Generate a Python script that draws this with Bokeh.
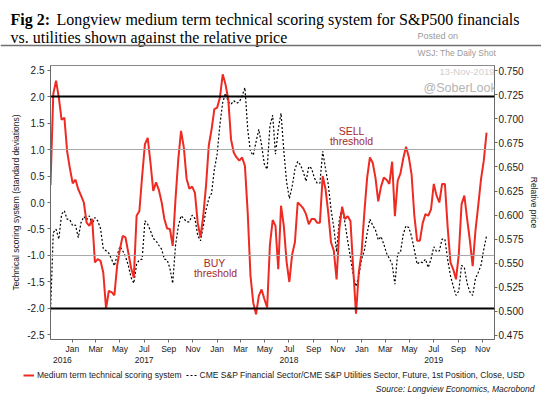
import pandas as pd
from bokeh.plotting import figure
from bokeh.layouts import column
from bokeh.models import (Range1d, LinearAxis, DatetimeAxis, FixedTicker,
                          NumeralTickFormatter, DatetimeTickFormatter, Span,
                          Label, Legend, LegendItem)
from bokeh.embed import file_html
from bokeh.resources import INLINE

# ---------------- data (weekly readings from the chart) ----------------
start_date = "2016-11-07"
score = [0.33, 2.05, 2.30, 1.98, 1.56, 1.60, 0.96, 0.64, 0.36, 0.43,
         0.25, 0.13, 0.00, -0.38, -0.44, -0.31, -1.13, -1.07, -1.10, -1.32,
         -2.00, -1.67, -1.69, -1.75, -1.19, -0.88, -0.63, -0.66, -0.94, -1.23,
         -1.42, -0.25, -0.16, 0.50, 1.10, 1.22, 0.75, 0.22, 0.38, 0.24,
         0.01, -0.31, -0.49, -0.50, -0.82, 0.06, 0.81, 1.35, 1.04, 0.45,
         0.26, 0.30, 0.18, -0.38, -0.66, -0.25, 0.32, 1.08, 1.38, 1.76,
         1.79, 1.98, 2.42, 2.23, 1.95, 1.19, 0.94, 0.85, 0.79, 0.85,
         0.69, -0.19, -1.38, -1.89, -2.11, -1.76, -1.64, -1.82, -1.98, -0.80,
         -0.33, -0.44, -1.26, -0.06, -0.44, -1.12, -1.50, -0.98, -0.75, 0.00,
         -0.05, -0.11, -0.22, -0.41, -0.31, -0.31, -0.38, -0.38, 0.50, 0.26,
         -0.19, -0.75, -0.91, -1.45, -0.50, -0.08, -0.31, -0.26, -0.35, -1.26,
         -2.10, -1.32, -0.94, -0.19, 0.47, 0.85, 0.75, 0.47, 0.02, 0.30,
         0.47, 0.43, 0.35, 0.77, -0.26, 0.41, 0.55, 0.83, 1.05, 0.86,
         0.53, -0.25, -0.72, -0.72, -0.39, -0.22, -0.25, -0.13, 0.35, 0.13,
         0.00, 0.35, 0.35, -0.47, -1.13, -1.26, -1.45, -0.98, -0.03, 0.13,
         -0.31, -0.72, -1.20, -0.53, -0.06, 0.44, 0.79, 1.32]
rel_price = [0.4987, 0.5818, 0.5853, 0.5750, 0.6009, 0.6044, 0.5957, 0.5950, 0.5888, 0.5895,
             0.5766, 0.5922, 0.5985, 0.5950, 0.5992, 0.5905, 0.5974, 0.5940, 0.5860, 0.5652,
             0.5628, 0.5603, 0.5541, 0.5472, 0.5582, 0.5673, 0.5628, 0.5569, 0.5478, 0.5350,
             0.5291, 0.5489, 0.5534, 0.5541, 0.5940, 0.5905, 0.5836, 0.5756, 0.5732, 0.5686,
             0.5645, 0.5541, 0.5534, 0.5444, 0.5290, 0.5680, 0.5881, 0.5992, 0.5964, 0.5930,
             0.5930, 0.5998, 0.5964, 0.5790, 0.5732, 0.5881, 0.6054, 0.6172, 0.6227, 0.6476,
             0.6632, 0.6944, 0.7170, 0.7267, 0.7177, 0.7152, 0.7188, 0.7163, 0.7177, 0.7240,
             0.7326, 0.6892, 0.6657, 0.6622, 0.6761, 0.6892, 0.6726, 0.6528, 0.6476, 0.6928,
             0.7038, 0.6632, 0.6892, 0.7059, 0.6668, 0.6345, 0.6172, 0.6297, 0.6476, 0.6557,
             0.6522, 0.6450, 0.6352, 0.6505, 0.6484, 0.6387, 0.6331, 0.6331, 0.6664, 0.6484,
             0.6320, 0.6061, 0.5870, 0.5618, 0.5957, 0.6078, 0.5922, 0.5732, 0.5558, 0.5374,
             0.5257, 0.5368, 0.5541, 0.5631, 0.5811, 0.5957, 0.5894, 0.5846, 0.5741, 0.5777,
             0.5697, 0.5603, 0.5548, 0.5489, 0.5281, 0.5603, 0.5610, 0.5801, 0.5888, 0.5870,
             0.5777, 0.5638, 0.5489, 0.5514, 0.5506, 0.5541, 0.5454, 0.5541, 0.5670, 0.5621,
             0.5628, 0.5750, 0.5750, 0.5534, 0.5370, 0.5260, 0.5165, 0.5210, 0.5478, 0.5454,
             0.5290, 0.5200, 0.5165, 0.5340, 0.5402, 0.5478, 0.5645, 0.5784]

score_ticks = [-2.5, -2.0, -1.5, -1.0, -0.5, 0.0, 0.5, 1.0, 1.5, 2.0, 2.5]
price_ticks = [0.475, 0.500, 0.525, 0.550, 0.575, 0.600, 0.625, 0.650, 0.675, 0.700, 0.725, 0.750]
month_ticks = ["2017-01-01", "2017-03-01", "2017-05-01", "2017-07-01", "2017-09-01", "2017-11-01",
               "2018-01-01", "2018-03-01", "2018-05-01", "2018-07-01", "2018-09-01", "2018-11-01",
               "2019-01-01", "2019-03-01", "2019-05-01", "2019-07-01", "2019-09-01", "2019-11-01"]
year_label_dates = ["2016-12-07", "2017-07-01", "2018-07-01", "2019-07-01"]
thresholds_strong = [2.0, -2.0]
thresholds_weak = [1.0, -1.0]
series_names = ["Medium term technical scoring system",
                "CME S&P Financial Sector/CME S&P Utilities Sector, Future, 1st Position, Close, USD"]

dates = pd.date_range(start_date, periods=len(score), freq="7D")


def ms(d):
    return pd.Timestamp(d).value / 1e6


RED = "#ee2a22"
DARKRED = "#a52a2a"
FONT = "Liberation Sans"
SERIF = "Liberation Serif"
W = 541
TOP_H, MAIN_H, BOT_H = 58, 310, 31      # page rows: 0-58, 58-368, 368-399


def blank_fig(h, y0):
    f = figure(width=W, height=h, output_backend="svg", toolbar_location=None,
               x_range=Range1d(0, W), y_range=Range1d(y0 + h, y0),
               x_axis_location=None, y_axis_location=None,
               min_border=0, min_border_left=0, min_border_right=0,
               min_border_top=0, min_border_bottom=0, frame_align=False)
    f.outline_line_color = None
    f.grid.visible = False
    f.background_fill_color = "white"
    f.border_fill_color = "white"
    return f


def tlabel(fig, text, x, y, size, color="#1a1a1a", font=FONT, style="normal",
           align="left", baseline="middle"):
    fig.add_layout(Label(x=x, y=y, text=text, text_font=font, text_font_size=size,
                         text_font_style=style, text_color=color,
                         text_align=align, text_baseline=baseline))


# ---------------- header ----------------
top = blank_fig(TOP_H, 0)
tlabel(top, "Fig 2:", 10, 19, "16px", color="black", font=SERIF, style="bold", baseline="alphabetic")
tlabel(top, "Longview medium term technical scoring system for S&P500 financials", 56, 19, "16px",
       color="black", font=SERIF, baseline="alphabetic")
tlabel(top, "vs. utilities shown against the relative price", 10, 37, "16px", color="black",
       font=SERIF, baseline="alphabetic")
top.add_layout(Span(location=45, dimension="width", line_color="#707070", line_width=1.5))
tlabel(top, "Posted on", 417, 35, "9px", color="#9a9a9a")
tlabel(top, "WSJ: The Daily Shot", 417, 52, "8.5px", color="#9a9a9a")

# ---------------- main chart ----------------
p = figure(width=W, height=MAIN_H, x_axis_type="datetime",
           output_backend="svg", toolbar_location=None,
           x_range=Range1d(pd.Timestamp("2016-11-07"), pd.Timestamp("2019-12-01")),
           y_range=Range1d(-2.585, 2.585),
           min_border_left=50, min_border_right=46,
           min_border_top=7, min_border_bottom=29, frame_align=False)
p.extra_y_ranges = {"price": Range1d(0.4706, 0.7555)}
p.background_fill_color = "white"
p.border_fill_color = "white"
p.outline_line_color = "#8a8a8a"
p.grid.visible = False

for v in thresholds_weak:
    p.add_layout(Span(location=v, dimension="width", line_color="#a8a8a8", line_width=1))
for v in thresholds_strong:
    p.add_layout(Span(location=v, dimension="width", line_color="black", line_width=2))

r_price = p.line(dates, rel_price, y_range_name="price", line_color="black",
                 line_width=1.2, line_dash="2 2")
r_score = p.line(dates, score, line_color=RED, line_width=2)

ya = p.yaxis[0]
ya.ticker = FixedTicker(ticks=score_ticks)
ya.formatter = NumeralTickFormatter(format="0.0")
ya.axis_label = "Technical scoring system (standard deviations)"
ya.axis_label_standoff = 3

ra = LinearAxis(y_range_name="price", ticker=FixedTicker(ticks=price_ticks),
                formatter=NumeralTickFormatter(format="0.000"))
ra.axis_label = "Relative price"
ra.axis_label_standoff = 2
p.add_layout(ra, "right")

xa = p.xaxis[0]
xa.ticker = FixedTicker(ticks=[ms(d) for d in month_ticks])
xa.formatter = DatetimeTickFormatter(days="%b", months="%b", years="%b")
year_axis = DatetimeAxis(ticker=FixedTicker(ticks=[ms(d) for d in year_label_dates]),
                         formatter=DatetimeTickFormatter(days="%Y", months="%Y", years="%Y"))
p.add_layout(year_axis, "below")

for ax in [ya, ra, xa, year_axis]:
    ax.major_label_text_font = FONT
    ax.major_label_text_font_size = "10px"
    ax.major_label_text_color = "#1a1a1a"
    ax.axis_label_text_font = FONT
    ax.axis_label_text_font_size = "8.5px"
    ax.axis_label_text_font_style = "normal"
    ax.axis_label_text_color = "#1a1a1a"
    ax.axis_line_color = "#6a6a6a"
    ax.major_tick_line_color = "#6a6a6a"
    ax.major_tick_out = 3
    ax.major_tick_in = 0
    ax.minor_tick_line_color = None
ya.major_label_standoff = 3
ra.major_label_standoff = 1
xa.major_label_text_font_size = "8.5px"
xa.major_label_standoff = 1
year_axis.major_label_text_font_size = "8.5px"
year_axis.axis_line_color = None
year_axis.major_tick_line_color = None
year_axis.major_tick_out = 0
year_axis.major_label_standoff = 0

# in-frame annotations (screen px from frame bottom-left: frame at page x 50, y 339)
FX, FY = 50, 339


def flabel(text, px, py, size, color, align="left"):
    p.add_layout(Label(x=px - FX, y=FY - py, x_units="screen", y_units="screen",
                       text=text, text_font=FONT, text_font_size=size,
                       text_color=color, text_align=align, text_baseline="middle"))


flabel("13-Nov-2019", 494, 70.5, "9.5px", "#cfcfcf", align="right")
flabel("@SoberLook", 423, 87, "12.5px", "#b4b4b4")
flabel("SELL", 351, 130, "10.5px", DARKRED, align="center")
flabel("threshold", 351, 140.5, "10.5px", DARKRED, align="center")
flabel("BUY", 214, 262.5, "10.5px", DARKRED, align="center")
flabel("threshold", 215, 272.5, "10.5px", DARKRED, align="center")

# ---------------- footer: legend + source ----------------
bot = blank_fig(BOT_H, TOP_H + MAIN_H)
nan = [float("nan")]
lg_score = bot.line(nan, nan, line_color=RED, line_width=2)
lg_price = bot.line(nan, nan, line_color="black", line_width=1.2, line_dash="2 2")
legend = Legend(items=[LegendItem(label=series_names[0], renderers=[lg_score]),
                       LegendItem(label=series_names[1], renderers=[lg_price])],
                orientation="horizontal", location=(23, 19),
                padding=0, margin=0, spacing=4, glyph_width=11, glyph_height=10,
                label_height=10, label_standoff=3,
                label_text_font=FONT, label_text_font_size="8.5px",
                label_text_color="#1a1a1a",
                border_line_color=None, background_fill_alpha=0)
bot.add_layout(legend, "center")
tlabel(bot, "Source: Longview Economics, Macrobond", 534, 388, "8.5px", color="#222222",
       style="italic", align="right")

layout = column(top, p, bot, spacing=0)
open("out.html", "w").write(file_html(layout, INLINE))
